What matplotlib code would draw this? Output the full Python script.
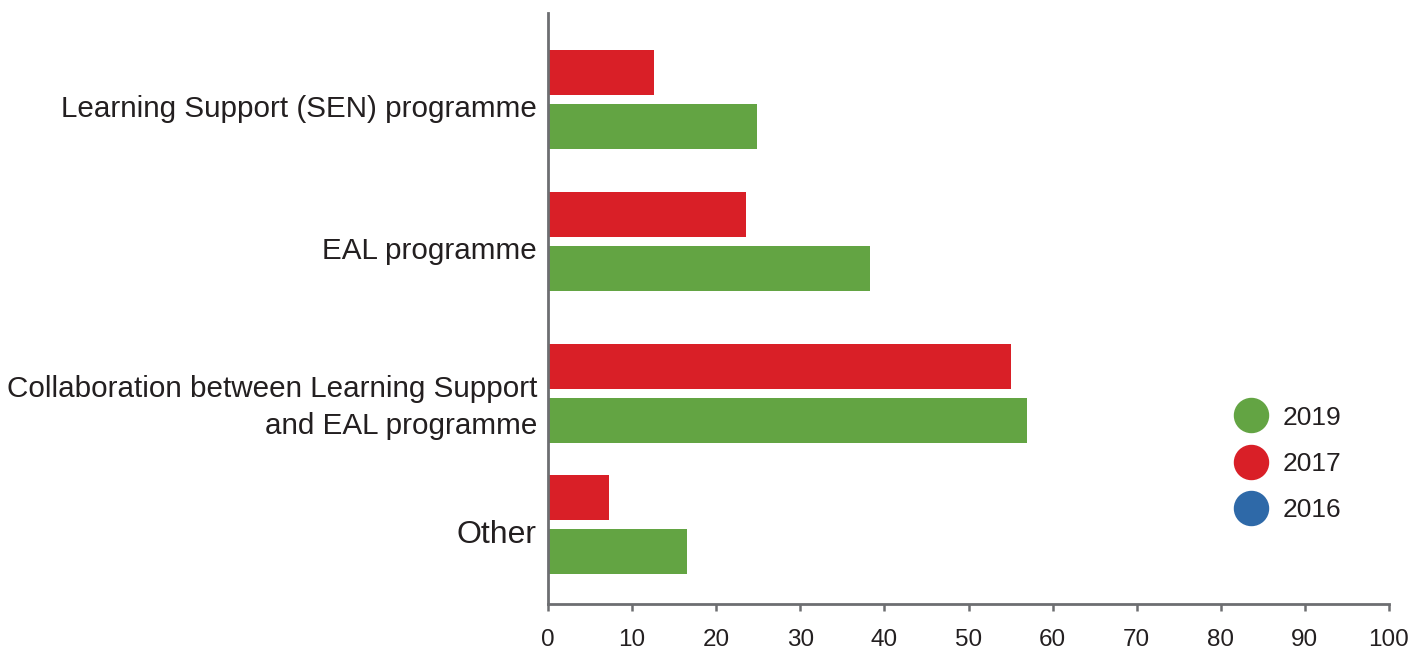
import matplotlib
matplotlib.use('Agg')
import matplotlib.pyplot as plt
import matplotlib.transforms as mtransforms
from matplotlib.lines import Line2D

plt.rcParams['font.family'] = ['Liberation Sans', 'DejaVu Sans']

# ── Datos ──
categories = [
    "Learning Support (SEN) programme",
    "EAL programme",
    "Collaboration between Learning Support\nand EAL programme",
    "Other",
]
values_2017 = [12.6, 23.5, 55.1, 7.2]
values_2019 = [24.9, 38.3, 57.0, 16.5]
years = ["2019", "2017", "2016"]

# ── Estilo ──
C_2019 = '#63a443'
C_2017 = '#d91f27'
C_2016 = '#2e69a8'
TXT = '#231f20'
AXIS = '#6d6e71'

# posiciones de grupo (no uniformes, como en el original)
group_y = [0.0, 1.0, 2.07, 2.99]
bar_h = 0.317
off = 0.19

fig = plt.figure(figsize=(14.13, 6.5), dpi=100, facecolor='white')
ax = fig.add_axes([548 / 1413, 46 / 650, 841 / 1413, 591 / 650])

ax.barh([y - off for y in group_y], values_2017, height=bar_h, color=C_2017, zorder=2)
ax.barh([y + off for y in group_y], values_2019, height=bar_h, color=C_2019, zorder=2)

ax.set_xlim(0, 100)
ax.set_ylim(3.553, -0.609)
ax.set_xticks(range(0, 101, 10))
ax.tick_params(axis='x', direction='out', length=5, width=1.8, color=AXIS,
               labelsize=17.5, labelcolor=TXT, pad=13)

ax.set_yticks(group_y)
ax.set_yticklabels(categories, fontsize=21.3, color=TXT, multialignment='right',
                   linespacing=1.4)
ax.tick_params(axis='y', length=0, pad=8)
shift = mtransforms.ScaledTranslation(0, -7 / 100, fig.dpi_scale_trans)
for lbl in ax.get_yticklabels():
    lbl.set_transform(lbl.get_transform() + shift)
ax.get_yticklabels()[-1].set_fontsize(23)

for side in ['top', 'right']:
    ax.spines[side].set_visible(False)
for side in ['left', 'bottom']:
    ax.spines[side].set_color(AXIS)
    ax.spines[side].set_linewidth(2)

# ── Leyenda ──
handles = [Line2D([], [], marker='o', linestyle='none', markersize=24.5,
                  markerfacecolor=c, markeredgecolor=c)
           for c in (C_2019, C_2017, C_2016)]
leg = fig.legend(handles, years, loc='center', bbox_to_anchor=(1288 / 1413, 1 - 464 / 650),
                 frameon=False, fontsize=19, labelcolor=TXT, handletextpad=0.6,
                 labelspacing=0.85, handlelength=1.2)

fig.savefig('out.png', dpi=100, facecolor='white')
